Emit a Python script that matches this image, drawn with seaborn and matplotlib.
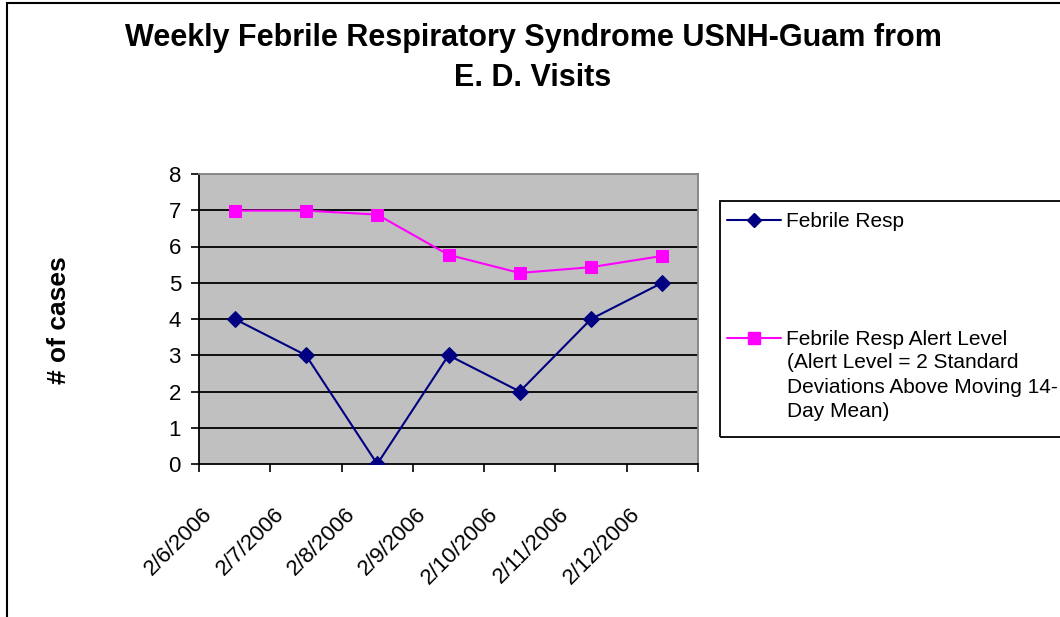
import pandas as pd
import seaborn as sns
import matplotlib.pyplot as plt
from matplotlib.lines import Line2D
from matplotlib.patches import Rectangle
import matplotlib.transforms as mtransforms

# Chart data
dates = ['2/6/2006', '2/7/2006', '2/8/2006', '2/9/2006', '2/10/2006', '2/11/2006', '2/12/2006']
febrile_resp = [4, 3, 0, 3, 2, 4, 5]
alert_level = [6.99, 6.99, 6.88, 5.77, 5.27, 5.43, 5.74]

navy = '#000080'
magenta = '#FF00FF'

df = pd.DataFrame({'idx': range(len(dates)), 'date': dates,
                   'resp': febrile_resp, 'alert': alert_level})

sns.set_style('white')
plt.rcParams['font.family'] = ['Liberation Sans', 'DejaVu Sans']
plt.rcParams.update({'text.color': 'black', 'axes.labelcolor': 'black',
                     'xtick.color': 'black', 'ytick.color': 'black'})

fig = plt.figure(figsize=(10.6, 6.17), dpi=100)
ax = fig.add_axes([199 / 1060, 1 - 464 / 617, (698 - 199) / 1060, (464 - 174) / 617])
ax.set_facecolor('#C0C0C0')

# horizontal gridlines
for v in range(1, 8):
    ax.axhline(v, color='black', lw=1.3, zorder=1)

sns.lineplot(data=df, x='idx', y='alert', ax=ax, color=magenta, lw=1.5,
             marker='s', markersize=9, markeredgecolor=magenta, zorder=3)
sns.lineplot(data=df, x='idx', y='resp', ax=ax, color=navy, lw=1.5,
             marker='D', markersize=8, markeredgecolor=navy, zorder=4)

ax.set_xlim(-0.5, len(dates) - 0.5)
ax.set_ylim(0, 8)
ax.set_yticks(range(0, 9))
ax.tick_params(axis='y', labelsize=16, length=6, width=1.2, direction='out', left=True, pad=7)

# tick marks at category boundaries, labels at category centres
ax.set_xticks([i - 0.5 for i in range(len(dates) + 1)])
ax.set_xticklabels([])
ax.tick_params(axis='x', which='major', length=6, width=1.2, direction='out', bottom=True)
ax.set_xticks(range(len(dates)), minor=True)
ax.set_xticklabels(dates, minor=True, rotation=45, ha='right', va='center',
                   rotation_mode='anchor', fontsize=16)
ax.tick_params(axis='x', which='minor', length=0, pad=0)
offset = mtransforms.ScaledTranslation(-25 / 100, -47 / 100, fig.dpi_scale_trans)
for lab in ax.get_xticklabels(minor=True):
    lab.set_transform(lab.get_transform() + offset)

ax.set_xlabel('')
ax.set_ylabel('')
for side in ['left', 'bottom']:
    ax.spines[side].set_color('black')
    ax.spines[side].set_linewidth(1.3)
for side in ['top', 'right']:
    ax.spines[side].set_color('#808080')
    ax.spines[side].set_linewidth(1.3)

# titles
fig.text(533 / 1060, 1 - 38 / 617, 'Weekly Febrile Respiratory Syndrome USNH-Guam from',
         ha='center', va='center', fontsize=22, fontweight='bold')
fig.text(533 / 1060, 1 - 78 / 617, 'E. D. Visits',
         ha='center', va='center', fontsize=22, fontweight='bold')
fig.text(59 / 1060, 1 - 320 / 617, '# of cases', rotation=90,
         ha='center', va='center', fontsize=19, fontweight='bold')

# outer chart border
fig.patches.append(Rectangle((7 / 1060, -0.1), 1.2, 1 - 3 / 617 + 0.1,
                             transform=fig.transFigure, fill=False,
                             edgecolor='black', lw=1.5))

# legend box
fig.patches.append(Rectangle((720 / 1060, 1 - 437 / 617), 0.5, (437 - 201) / 617,
                             transform=fig.transFigure, fill=False,
                             edgecolor='black', lw=1.3))
handles = [Line2D([], [], color=navy, lw=1.5, marker='D', markersize=7),
           Line2D([], [], color=magenta, lw=1.5, marker='s', markersize=8)]
fig.legend(handles, ['Febrile Resp', 'Febrile Resp Alert Level'],
           loc='upper left', bbox_to_anchor=(727 / 1060, 1 - 212 / 617),
           frameon=False, fontsize=15, handlelength=2.6, handletextpad=0.25,
           labelspacing=4.75, borderpad=0, borderaxespad=0)
fig.text(787 / 1060, 1 - 353 / 617,
         '(Alert Level = 2 Standard\nDeviations Above Moving 14-\nDay Mean)',
         ha='left', va='top', fontsize=15, linespacing=1.38)

fig.savefig('out.png', dpi=100)
